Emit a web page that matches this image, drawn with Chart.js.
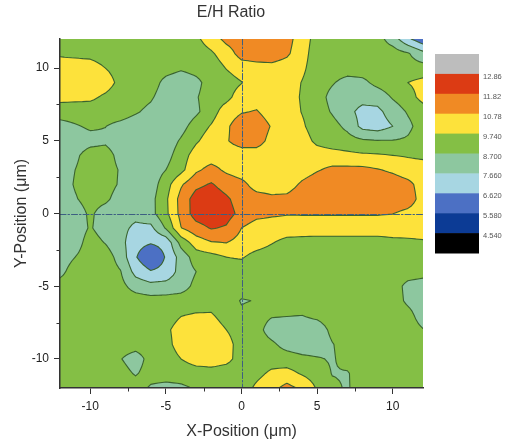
<!DOCTYPE html>
<html>
<head>
<meta charset="utf-8">
<script src="https://cdn.jsdelivr.net/npm/chart.js@4.4.1/dist/chart.umd.min.js"></script>
<style>
  html, body { margin: 0; padding: 0; background: #fff; }
  #wrap { width: 505px; height: 441px; }
</style>
</head>
<body>
<div id="wrap"><canvas id="chart"></canvas></div>
<script>
// grid nodes (um) at 1 um spacing
const xPos = [-12,-11,-10,-9,-8,-7,-6,-5,-4,-3,-2,-1,0,1,2,3,4,5,6,7,8,9,10,11,12];
const yPos = [12,11,10,9,8,7,6,5,4,3,2,1,0,-1,-2,-3,-4,-5,-6,-7,-8,-9,-10,-11,-12];

// E/H ratio, one row per yPos value, one column per xPos value
const ratio = [
  [9.2,9.2,9.2,9.2,9.2,9.2,9.2,9.2,9.2,9.54,10.25,11.08,11.35,11.4,11.4,11.15,10.25,9.34,9.2,9.2,9.2,9.1,8.2,6.82,5.9],
  [9.64,9.54,9.45,9.25,9.2,9.2,9.2,9.2,9.2,9.2,9.6,10.25,11.2,11.3,11.3,10.95,10.15,9.2,9.2,9.2,9.2,9.2,9.2,8.8,8.0],
  [10.1,10.2,10.2,9.74,9.35,9.2,9.2,9.15,8.85,9.1,9.2,9.78,10.25,10.4,10.48,10.3,9.94,9.2,9.2,9.2,9.2,9.2,9.2,9.1,9.1],
  [10.4,10.45,10.4,10.2,9.45,9.2,9.25,8.35,8.0,8.4,9.2,9.3,9.7,10.3,10.35,10.25,9.7,9.2,8.8,8.3,8.45,9.0,9.35,9.74,10.05],
  [10.05,10.0,9.95,9.56,9.2,9.2,8.85,8.1,7.95,8.62,9.2,9.45,10.25,10.35,10.35,10.2,9.64,9.2,8.35,8.1,8.0,8.1,8.8,9.3,10.1],
  [9.2,9.2,9.2,9.2,9.2,8.83,8.4,7.95,7.9,8.5,9.3,10.25,10.7,10.85,10.3,10.25,9.7,9.25,8.6,7.95,7.35,7.4,8.15,8.8,9.25],
  [8.3,8.6,8.85,8.72,8.4,8.1,7.9,7.9,8.3,9.2,9.82,10.6,11.4,11.4,10.7,10.3,9.9,9.2,9.05,8.45,7.35,7.15,7.66,8.45,9.2],
  [8.1,8.2,8.35,8.5,8.1,7.95,7.95,8.05,8.83,9.6,10.25,10.7,11.2,11.2,10.45,10.3,10.2,9.5,9.2,9.1,8.85,8.75,8.75,8.85,9.2],
  [8.1,8.5,9.15,9.2,8.3,8.0,8.0,8.3,9.25,10.2,10.3,10.3,10.3,10.3,10.25,10.25,10.25,10.25,10.15,10.0,9.9,9.85,9.74,9.65,9.55],
  [8.1,8.7,9.2,9.2,8.6,8.1,8.1,8.7,9.45,10.6,11.1,10.6,10.3,10.25,10.25,10.25,10.3,10.7,11.0,11.05,11.05,10.85,10.6,10.25,10.2],
  [8.1,8.8,9.2,9.2,8.55,8.1,8.15,9.3,10.65,11.55,11.92,11.35,11.05,10.4,10.3,10.3,10.95,11.35,11.5,11.5,11.5,11.45,11.35,11.05,10.35],
  [8.1,8.6,9.15,8.95,8.15,8.0,8.35,9.55,11.15,12.3,12.5,12.0,11.3,11.15,10.98,11.05,11.4,11.55,11.55,11.55,11.55,11.55,11.5,11.3,10.35],
  [8.05,8.1,8.9,8.15,8.0,7.95,8.35,9.5,11.1,12.3,12.55,12.25,11.5,11.1,10.95,10.85,10.85,10.85,10.85,10.85,10.85,10.85,10.8,10.5,10.3],
  [8.1,8.15,8.8,8.2,7.95,7.45,7.4,8.8,10.75,11.4,11.9,11.7,10.78,10.3,10.25,10.25,10.3,10.3,10.3,10.3,10.3,10.3,10.3,10.3,10.3],
  [8.1,8.25,9.15,8.65,8.0,6.95,6.7,6.9,9.07,10.25,10.7,10.8,10.4,10.2,9.8,9.45,9.35,9.3,9.3,9.3,9.3,9.3,9.45,9.5,9.6],
  [8.15,8.7,9.2,9.2,8.3,6.7,5.7,6.7,8.07,9.2,9.4,9.74,9.84,9.35,9.2,9.2,9.2,9.2,9.2,9.2,9.2,9.2,9.2,9.2,9.2],
  [8.4,9.2,9.2,9.2,8.75,7.3,6.7,6.9,8.1,8.7,9.2,9.2,9.2,9.2,9.2,9.2,9.2,9.2,9.2,9.2,9.2,9.2,9.2,9.2,9.1],
  [9.1,9.2,9.2,9.2,9.0,8.3,8.0,8.1,8.3,8.95,9.2,9.2,9.2,9.2,9.2,9.2,9.2,9.2,9.2,9.2,9.2,9.2,9.2,8.4,8.2],
  [9.2,9.2,9.2,9.2,9.2,9.2,9.1,9.1,9.15,9.2,9.3,9.25,8.62,8.75,9.2,9.2,9.2,9.2,9.2,9.2,9.2,9.2,9.2,8.5,8.15],
  [9.2,9.2,9.2,9.2,9.2,9.2,9.2,9.3,9.7,9.85,9.85,9.3,8.9,9.1,8.8,8.75,8.7,8.95,9.2,9.2,9.2,9.2,9.2,9.05,8.2],
  [9.2,9.2,9.2,9.2,9.2,9.2,9.2,9.55,10.15,10.3,10.3,9.74,9.2,9.1,8.2,8.15,8.1,8.15,8.95,9.2,9.2,9.2,9.2,9.2,8.75],
  [9.2,9.2,9.2,9.2,9.2,9.15,9.2,9.4,10.2,10.4,10.4,10.15,9.25,9.2,8.9,8.3,8.1,8.1,8.65,9.1,9.2,9.2,9.2,9.2,9.2],
  [9.2,9.2,9.2,9.2,8.75,8.2,9.1,9.2,9.74,10.15,10.25,10.05,9.3,9.2,9.25,9.2,8.95,8.8,8.6,9.05,9.2,9.2,9.2,9.2,9.2],
  [9.2,9.2,9.2,9.2,9.1,8.6,9.15,9.2,9.2,9.3,9.35,9.2,9.2,9.45,9.95,10.1,9.64,9.25,8.66,8.62,9.2,9.2,9.2,9.2,9.2],
  [9.2,9.2,9.2,9.2,9.2,9.2,8.55,8.35,8.5,8.8,9.2,9.2,9.2,9.95,10.5,11.1,10.6,9.64,8.9,8.6,9.2,9.2,9.2,9.2,9.2]
];

const levels = [4.54, 5.58, 6.62, 7.66, 8.70, 9.74, 10.78, 11.82, 12.86];
const levelLabels = ['4.540', '5.580', '6.620', '7.660', '8.700', '9.740', '10.78', '11.82', '12.86'];
// one colour per band, lowest first
const bandColors = ['#000000', '#0c3b95', '#4c70c4', '#a7d6e2', '#8dc79f', '#84bf45', '#fde23b', '#f08a24', '#dc3b14', '#bdbdbd'];
const majorTicks = [-10, -5, 0, 5, 10];
const minorTicks = [-7.5, -2.5, 2.5, 7.5];

const FONT = "'Liberation Sans', Arial, sans-serif";
Chart.defaults.font.family = FONT;

function sample(vx, vy) {
  const n = xPos.length - 1, m = yPos.length - 1;
  let fx = (vx - xPos[0]) / (xPos[1] - xPos[0]);
  let fy = (vy - yPos[0]) / (yPos[1] - yPos[0]);
  fx = Math.min(Math.max(fx, 0), n);
  fy = Math.min(Math.max(fy, 0), m);
  const i = Math.min(Math.floor(fx), n - 1), j = Math.min(Math.floor(fy), m - 1);
  const tx = fx - i, ty = fy - j;
  const r0 = ratio[j], r1 = ratio[j + 1];
  return (r0[i] * (1 - tx) + r0[i + 1] * tx) * (1 - ty) + (r1[i] * (1 - tx) + r1[i + 1] * tx) * ty;
}

function bandOf(v) {
  let k = 0;
  while (k < levels.length && v >= levels[k]) k++;
  return k;
}

function hexRgb(h) {
  return [parseInt(h.slice(1, 3), 16), parseInt(h.slice(3, 5), 16), parseInt(h.slice(5, 7), 16)];
}

const contourPlugin = {
  id: 'contour',
  beforeDraw(chart) {
    const { ctx, chartArea: a, scales: { x, y } } = chart;
    const rgb = bandColors.map(hexRgb);

    // filled bands
    const w = Math.round(a.right - a.left), h = Math.round(a.bottom - a.top);
    const off = document.createElement('canvas');
    off.width = w; off.height = h;
    const octx = off.getContext('2d');
    const img = octx.createImageData(w, h);
    for (let j = 0; j < h; j++) {
      const vy = y.getValueForPixel(a.top + j + 0.5);
      for (let i = 0; i < w; i++) {
        const vx = x.getValueForPixel(a.left + i + 0.5);
        const c = rgb[bandOf(sample(vx, vy))];
        const p = (j * w + i) * 4;
        img.data[p] = c[0]; img.data[p + 1] = c[1]; img.data[p + 2] = c[2]; img.data[p + 3] = 255;
      }
    }
    octx.putImageData(img, 0, 0);
    ctx.drawImage(off, a.left, a.top);

    // contour lines (marching squares on a finer sampling of the grid)
    const sub = 4;
    const nx = (xPos.length - 1) * sub + 1, ny = (yPos.length - 1) * sub + 1;
    const gx = [], gy = [], px = [], py = [];
    for (let i = 0; i < nx; i++) {
      gx.push(xPos[0] + (xPos[xPos.length - 1] - xPos[0]) * i / (nx - 1));
      px.push(x.getPixelForValue(gx[i]));
    }
    for (let j = 0; j < ny; j++) {
      gy.push(yPos[0] + (yPos[yPos.length - 1] - yPos[0]) * j / (ny - 1));
      py.push(y.getPixelForValue(gy[j]));
    }
    const vals = new Float64Array(nx * ny);
    for (let j = 0; j < ny; j++) for (let i = 0; i < nx; i++) vals[j * nx + i] = sample(gx[i], gy[j]);

    ctx.save();
    ctx.beginPath();
    ctx.rect(a.left, a.top, a.right - a.left, a.bottom - a.top);
    ctx.clip();
    ctx.strokeStyle = '#3a632f';
    ctx.lineWidth = 1.1;
    ctx.lineJoin = 'round';
    ctx.lineCap = 'round';
    for (const L of levels) {
      ctx.beginPath();
      for (let j = 0; j < ny - 1; j++) {
        for (let i = 0; i < nx - 1; i++) {
          const va = vals[j * nx + i], vb = vals[j * nx + i + 1];
          const vc = vals[(j + 1) * nx + i + 1], vd = vals[(j + 1) * nx + i];
          const pts = [];
          const edge = (v1, v2, x1, y1, x2, y2) => {
            if ((v1 >= L) !== (v2 >= L)) {
              const t = (L - v1) / (v2 - v1);
              pts.push([x1 + (x2 - x1) * t, y1 + (y2 - y1) * t]);
            } else pts.push(null);
          };
          edge(va, vb, px[i], py[j], px[i + 1], py[j]);
          edge(vb, vc, px[i + 1], py[j], px[i + 1], py[j + 1]);
          edge(vc, vd, px[i + 1], py[j + 1], px[i], py[j + 1]);
          edge(vd, va, px[i], py[j + 1], px[i], py[j]);
          const hit = pts.filter(p => p);
          if (hit.length === 2) {
            ctx.moveTo(hit[0][0], hit[0][1]);
            ctx.lineTo(hit[1][0], hit[1][1]);
          } else if (hit.length === 4) {
            const centre = (va + vb + vc + vd) / 4;
            const pairs = ((centre >= L) === (va >= L)) ? [[0, 1], [2, 3]] : [[3, 0], [1, 2]];
            for (const [p, q] of pairs) {
              ctx.moveTo(pts[p][0], pts[p][1]);
              ctx.lineTo(pts[q][0], pts[q][1]);
            }
          }
        }
      }
      ctx.stroke();
    }

    // dash-dot cross hairs at the origin
    ctx.strokeStyle = '#3d5f82';
    ctx.lineWidth = 1;
    ctx.setLineDash([6, 2, 1.5, 2]);
    const x0 = Math.round(x.getPixelForValue(0)) + 0.5;
    const y0 = Math.round(y.getPixelForValue(0)) + 0.5;
    ctx.beginPath();
    ctx.moveTo(x0, a.top); ctx.lineTo(x0, a.bottom);
    ctx.moveTo(a.left, y0); ctx.lineTo(a.right, y0);
    ctx.stroke();
    ctx.restore();

    // colour scale
    const cbLeft = a.right + 12, cbW = 44, cbTop = a.top + 15, bandH = 19.9;
    const nb = bandColors.length;
    for (let k = 0; k < nb; k++) {
      ctx.fillStyle = bandColors[nb - 1 - k];
      ctx.fillRect(cbLeft, cbTop + k * bandH, cbW, bandH + 0.5);
    }
    ctx.fillStyle = '#555';
    ctx.font = '7.5px ' + FONT;
    ctx.textAlign = 'left';
    ctx.textBaseline = 'middle';
    for (let k = 0; k < levels.length; k++) {
      const idx = levels.length - 1 - k;
      ctx.fillText(levelLabels[idx], cbLeft + cbW + 4, cbTop + (k + 1) * bandH + 3);
    }

    // title
    ctx.fillStyle = '#333';
    ctx.font = '16px ' + FONT;
    ctx.textAlign = 'center';
    ctx.fillText('E/H Ratio', 231, 13);
  },
  afterDraw(chart) {
    const { ctx, chartArea: a, scales: { x, y } } = chart;
    ctx.save();
    ctx.strokeStyle = '#333';
    ctx.lineWidth = 1;
    ctx.beginPath();
    for (const v of minorTicks) {
      const p = Math.round(x.getPixelForValue(v)) + 0.5;
      ctx.moveTo(p, a.bottom); ctx.lineTo(p, a.bottom + 3.5);
      const q = Math.round(y.getPixelForValue(v)) + 0.5;
      ctx.moveTo(a.left, q); ctx.lineTo(a.left - 3.5, q);
    }
    ctx.stroke();
    ctx.restore();
  }
};

const nodes = [];
yPos.forEach((yv, j) => xPos.forEach((xv, i) => nodes.push({ x: xv, y: yv, v: ratio[j][i] })));

new Chart(document.getElementById('chart'), {
  type: 'scatter',
  data: {
    datasets: [{ label: 'E/H Ratio', data: nodes, pointRadius: 0, pointHoverRadius: 0 }]
  },
  options: {
    responsive: true,
    maintainAspectRatio: false,
    animation: false,
    events: [],
    layout: { padding: { top: 39, right: 82, left: 0, bottom: 0 } },
    plugins: { legend: { display: false }, tooltip: { enabled: false } },
    scales: {
      x: {
        type: 'linear', min: -12, max: 12, position: 'bottom',
        afterBuildTicks: s => { s.ticks = majorTicks.map(v => ({ value: v })); },
        ticks: { color: '#222', font: { size: 12 }, padding: 5, maxRotation: 0 },
        grid: { drawOnChartArea: false, tickLength: 6, color: '#333' },
        border: { display: true, color: '#333', width: 1.5 },
        title: { display: true, text: 'X-Position (\u03bcm)', color: '#333', font: { size: 16, lineHeight: 1 }, padding: { top: 0, bottom: 1 } },
        afterFit: s => { s.height = 53; }
      },
      y: {
        type: 'linear', min: -12, max: 12, position: 'left',
        afterBuildTicks: s => { s.ticks = majorTicks.map(v => ({ value: v })); },
        ticks: { color: '#222', font: { size: 12 }, padding: 5 },
        grid: { drawOnChartArea: false, tickLength: 6, color: '#333' },
        border: { display: true, color: '#333', width: 1.5 },
        title: { display: true, text: 'Y-Position (\u03bcm)', color: '#333', font: { size: 16, lineHeight: 1 }, padding: { top: 14, bottom: 0 } },
        afterFit: s => { s.width = 60; }
      }
    }
  },
  plugins: [contourPlugin]
});
</script>
</body>
</html>
